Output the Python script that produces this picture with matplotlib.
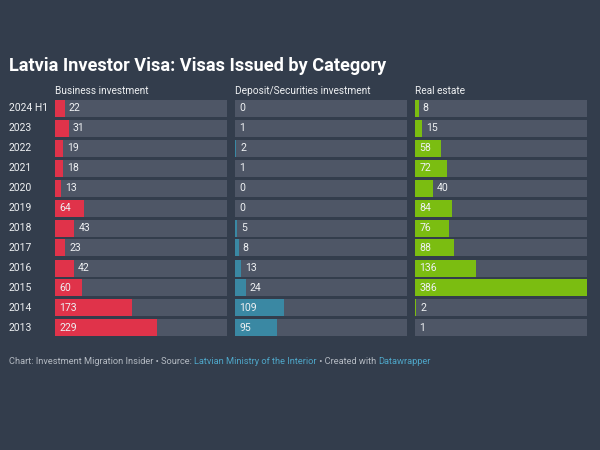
import matplotlib.pyplot as plt

# data
years = ["2024 H1", "2023", "2022", "2021", "2020", "2019", "2018",
         "2017", "2016", "2015", "2014", "2013"]
business = [22, 31, 19, 18, 13, 64, 43, 23, 42, 60, 173, 229]
deposit = [0, 1, 2, 1, 0, 0, 5, 8, 13, 24, 109, 95]
real_estate = [8, 15, 58, 72, 40, 84, 76, 88, 136, 386, 2, 1]

panels = [("Business investment", business, "#e0334a"),
          ("Deposit/Securities investment", deposit, "#3a88a3"),
          ("Real estate", real_estate, "#7bbd11")]

BG = "#333d4c"
TRACK = "#4e5666"
TXT = "#eef0f2"

plt.rcParams['font.family'] = ['Roboto', 'DejaVu Sans']

fig = plt.figure(figsize=(6, 4.5), dpi=100)
fig.patch.set_facecolor(BG)

W, H = 600.0, 450.0
vmax = max(business + deposit + real_estate)
lefts = [55, 235, 415]
pw = 172
top, bottom = 98, 338

fig.text(9 / W, 1 - 66 / H, "Latvia Investor Visa: Visas Issued by Category",
         color="white", fontsize=13.1, fontweight="bold", va="center", ha="left")

rows = list(range(len(years)))
for (name, vals, col), lx in zip(panels, lefts):
    ax = fig.add_axes([lx / W, 1 - bottom / H, pw / W, (bottom - top) / H])
    ax.patch.set_alpha(0)
    ax.barh(rows, [vmax] * len(rows), height=0.85, color=TRACK)
    ax.barh(rows, vals, height=0.85, color=col)
    ax.set_xlim(0, vmax)
    ax.set_ylim(len(rows) - 0.5, -0.5)
    ax.axis("off")
    # values go inside the bar when it is wide enough, otherwise after it
    for r, v in zip(rows, vals):
        xpos = 0 if v >= 50 else v
        ax.annotate(str(v), (xpos, r), xytext=(3, 0), textcoords="offset points",
                    color=TXT, fontsize=7.6, va="center", ha="left")
    fig.text(lx / W, 1 - 91 / H, name, color=TXT, fontsize=7.3,
             va="center", ha="left")

for r, y in zip(rows, years):
    fig.text(9 / W, 1 - (108 + 20 * r) / H, y, color=TXT, fontsize=7.5,
             va="center", ha="left")

# footer with coloured source links
grey = "#b4bac2"
link = "#4ea6c8"
parts = [("Chart: Investment Migration Insider • Source: ", grey),
         ("Latvian Ministry of the Interior", link),
         (" • Created with ", grey),
         ("Datawrapper", link)]
fig.canvas.draw()
renderer = fig.canvas.get_renderer()
x = 9 / W
for s, c in parts:
    t = fig.text(x, 1 - 361 / H, s, color=c, fontsize=6.7, va="center", ha="left")
    bb = t.get_window_extent(renderer=renderer)
    x += bb.width / fig.bbox.width

fig.savefig("out.png", dpi=100, facecolor=BG)
